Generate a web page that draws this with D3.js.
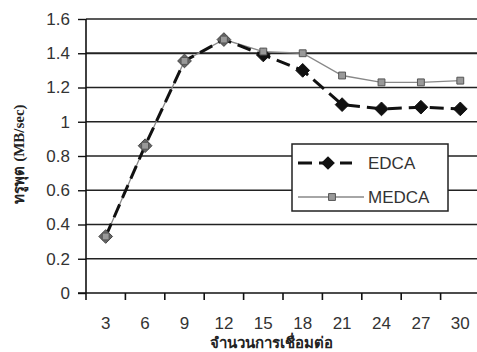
<!DOCTYPE html>
<html>
<head>
<meta charset="utf-8">
<script src="https://cdn.jsdelivr.net/npm/d3@7"></script>
<style>
  body { margin: 0; background: #fff; }
  svg { display: block; }
</style>
</head>
<body>
<svg id="chart"></svg>
<script>
// data
const nodes = [3, 6, 9, 12, 15, 18, 21, 24, 27, 30];
const edca  = [0.33, 0.86, 1.355, 1.48, 1.39, 1.30, 1.10, 1.075, 1.085, 1.075];
const medca = [0.33, 0.86, 1.355, 1.48, 1.41, 1.40, 1.27, 1.23, 1.23, 1.24];
const yTicks = [0, 0.2, 0.4, 0.6, 0.8, 1, 1.2, 1.4, 1.6];

const width = 477, height = 352;
const margin = {top: 19, right: -3, bottom: 59, left: 86};

const svg = d3.select('#chart')
    .attr('width', width)
    .attr('height', height);

const x = d3.scaleBand()
    .domain(nodes)
    .range([margin.left, width - margin.right]);

const y = d3.scaleLinear()
    .domain([0, 1.6])
    .range([height - margin.bottom, margin.top]);

// horizontal grid
svg.append('g')
    .selectAll('line')
    .data(yTicks.filter(d => d > 0))
    .join('line')
    .attr('x1', margin.left)
    .attr('x2', width)
    .attr('y1', d => y(d))
    .attr('y2', d => y(d))
    .attr('stroke', '#222')
    .attr('stroke-width', d => d === 1.4 ? 2 : 1.4);

// y axis
const yAxis = svg.append('g')
    .attr('transform', `translate(${margin.left},0)`)
    .call(d3.axisLeft(y).tickValues(yTicks).tickSize(8).tickPadding(8)
        .tickFormat(d => d3.format('~g')(d)));
yAxis.select('.domain').remove();
yAxis.selectAll('line').attr('stroke', '#111').attr('stroke-width', 1.4);
yAxis.selectAll('text')
    .attr('font-family', '"Liberation Sans", Arial, sans-serif')
    .attr('font-size', 17)
    .attr('fill', '#333');

svg.append('line')
    .attr('x1', margin.left).attr('x2', margin.left)
    .attr('y1', margin.top).attr('y2', y(0) + 7)
    .attr('stroke', '#111').attr('stroke-width', 1.6);

// x axis: ticks between categories
svg.append('line')
    .attr('x1', margin.left - 8).attr('x2', width)
    .attr('y1', y(0)).attr('y2', y(0))
    .attr('stroke', '#111').attr('stroke-width', 1.6);

svg.append('g')
    .selectAll('line')
    .data(nodes)
    .join('line')
    .attr('x1', d => x(d) + x.bandwidth())
    .attr('x2', d => x(d) + x.bandwidth())
    .attr('y1', y(0))
    .attr('y2', y(0) + 7)
    .attr('stroke', '#111')
    .attr('stroke-width', 1.6);

svg.append('g')
    .selectAll('text')
    .data(nodes)
    .join('text')
    .attr('x', d => x(d) + x.bandwidth() / 2)
    .attr('y', y(0) + 36)
    .attr('text-anchor', 'middle')
    .attr('font-family', '"Liberation Sans", Arial, sans-serif')
    .attr('font-size', 17)
    .attr('fill', '#333')
    .text(d => d);

const cx = d => x(d) + x.bandwidth() / 2;

const medcaData = nodes.map((n, i) => ({n, v: medca[i]}));
const edcaData = nodes.map((n, i) => ({n, v: edca[i]}));

const line = d3.line().x(d => cx(d.n)).y(d => y(d.v));

// MEDCA: thin grey line with square markers
svg.append('path')
    .attr('d', line(medcaData))
    .attr('fill', 'none')
    .attr('stroke', '#888')
    .attr('stroke-width', 1.3);

// EDCA: thick dashed black line with diamonds
svg.append('path')
    .attr('d', line(edcaData))
    .attr('fill', 'none')
    .attr('stroke', '#111')
    .attr('stroke-width', 3)
    .attr('stroke-dasharray', '14,7');

const diamond = d3.symbol().type(d3.symbolDiamond2).size(120);
const square = d3.symbol().type(d3.symbolSquare2).size(60);

svg.append('g')
    .selectAll('path')
    .data(edcaData)
    .join('path')
    .attr('transform', d => `translate(${cx(d.n)},${y(d.v)})`)
    .attr('d', diamond)
    .attr('fill', (d, i) => i < 4 ? '#666' : '#111')
    .attr('stroke', (d, i) => i < 4 ? '#444' : '#111');

svg.append('g')
    .selectAll('path')
    .data(medcaData)
    .join('path')
    .attr('transform', d => `translate(${cx(d.n)},${y(d.v)})`)
    .attr('d', square)
    .attr('fill', '#999')
    .attr('stroke', '#555')
    .attr('stroke-width', 1);

// legend
const lg = svg.append('g').attr('transform', 'translate(292,144)');
lg.append('rect')
    .attr('width', 156).attr('height', 67)
    .attr('fill', '#fff').attr('stroke', '#222').attr('stroke-width', 1.5);
lg.append('line')
    .attr('x1', 6).attr('x2', 60).attr('y1', 19).attr('y2', 19)
    .attr('stroke', '#111').attr('stroke-width', 3).attr('stroke-dasharray', '14,7');
lg.append('path')
    .attr('transform', 'translate(36,19)')
    .attr('d', diamond).attr('fill', '#111');
lg.append('line')
    .attr('x1', 6).attr('x2', 72).attr('y1', 53).attr('y2', 53)
    .attr('stroke', '#888').attr('stroke-width', 1.3);
lg.append('path')
    .attr('transform', 'translate(40,53)')
    .attr('d', square).attr('fill', '#999').attr('stroke', '#555');
lg.selectAll('text.lbl')
    .data(['EDCA', 'MEDCA'])
    .join('text')
    .attr('class', 'lbl')
    .attr('x', 76)
    .attr('y', (d, i) => i === 0 ? 25 : 59)
    .attr('font-family', '"Liberation Sans", Arial, sans-serif')
    .attr('font-size', 17)
    .attr('fill', '#333')
    .text(d => d);

// axis titles
svg.append('text')
    .attr('transform', 'translate(24,154) rotate(-90)')
    .attr('text-anchor', 'middle')
    .attr('font-family', '"Liberation Serif", serif')
    .attr('font-weight', 'bold')
    .attr('font-size', 15)
    .attr('fill', '#222')
    .text('ทรูพุต (MB/sec)');

svg.append('text')
    .attr('x', 271)
    .attr('y', 348)
    .attr('text-anchor', 'middle')
    .attr('font-family', '"Liberation Serif", serif')
    .attr('font-weight', 'bold')
    .attr('font-size', 15)
    .attr('fill', '#222')
    .text('จำนวนการเชื่อมต่อ');
</script>
</body>
</html>
